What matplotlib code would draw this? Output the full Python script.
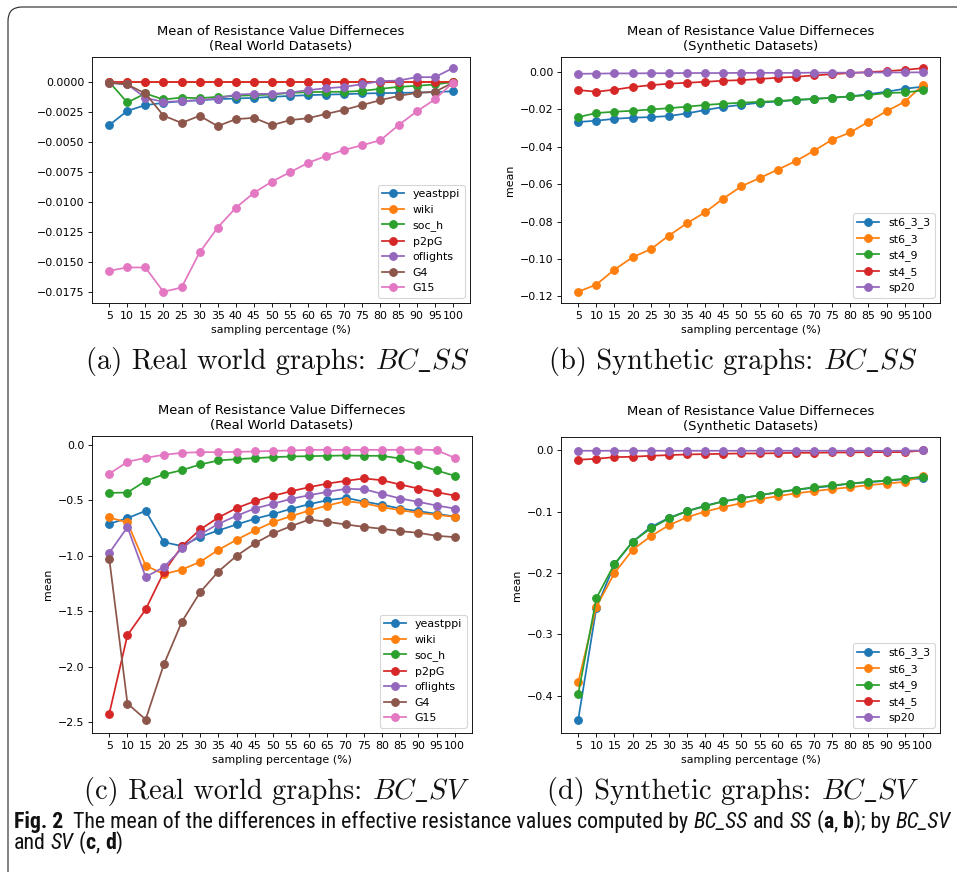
import matplotlib
matplotlib.use("Agg")
import matplotlib.pyplot as plt
from matplotlib import font_manager
from matplotlib.font_manager import FontProperties
from matplotlib.patches import FancyBboxPatch
from matplotlib.transforms import IdentityTransform

# ---------------- data ----------------
pct = [5, 10, 15, 20, 25, 30, 35, 40, 45, 50, 55, 60, 65, 70, 75, 80, 85, 90, 95, 100]

real_names = ["yeastppi", "wiki", "soc_h", "p2pG", "oflights", "G4", "G15"]
syn_names = ["st6_3_3", "st6_3", "st4_9", "st4_5", "sp20"]

# (a) real world, BC_SS
a_yeastppi = [-0.00361, -0.00242, -0.00194, -0.00175, -0.00161, -0.00153, -0.00144, -0.00139, -0.00133, -0.00125,
              -0.00117, -0.00111, -0.00106, -0.00103, -0.00097, -0.00094, -0.00092, -0.00089, -0.00086, -0.00078]
a_wiki = [-0.00002, -0.00002, -0.00002, -0.00002, -0.00002, -0.00002, -0.00002, -0.00002, -0.00002, -0.00002,
          -0.00002, -0.00002, -0.00002, -0.00002, -0.00002, -0.00002, -0.00002, -0.00002, -0.00002, 0.0]
a_soc_h = [0.0, -0.00172, -0.00097, -0.00147, -0.00131, -0.00136, -0.00125, -0.00117, -0.00111, -0.00106,
           -0.00092, -0.00086, -0.00083, -0.00083, -0.00075, -0.00058, -0.00042, -0.00033, -0.00022, -0.00002]
a_p2pG = [0.0] * 20
a_oflights = [-0.0001, -0.0002, -0.00133, -0.00167, -0.00161, -0.00153, -0.00139, -0.00106, -0.00100, -0.00100,
              -0.00089, -0.00069, -0.00053, -0.00042, -0.00019, 0.00006, 0.00011, 0.00039, 0.00039, 0.00114]
a_G4 = [-0.00006, -0.00022, -0.00097, -0.00281, -0.00342, -0.00283, -0.00369, -0.00311, -0.00300, -0.00361,
        -0.00319, -0.00303, -0.00267, -0.00233, -0.00192, -0.00153, -0.00117, -0.00092, -0.00083, -0.00008]
a_G15 = [-0.01575, -0.01547, -0.01547, -0.0175, -0.01714, -0.01422, -0.01214, -0.0105, -0.00925, -0.00831,
         -0.00753, -0.00675, -0.00617, -0.00567, -0.00528, -0.00486, -0.00361, -0.00247, -0.00147, -0.00008]

# (b) synthetic, BC_SS
b_st6_3_3 = [-0.0267, -0.0260, -0.0250, -0.0244, -0.0241, -0.0235, -0.0221, -0.0203, -0.0187, -0.0175,
             -0.0164, -0.0157, -0.0150, -0.0144, -0.0137, -0.0130, -0.0118, -0.0105, -0.0089, -0.0078]
b_st6_3 = [-0.1176, -0.1137, -0.1057, -0.0991, -0.0948, -0.0875, -0.0809, -0.0750, -0.0677, -0.0611,
           -0.0567, -0.0522, -0.0476, -0.0421, -0.0362, -0.0323, -0.0266, -0.0209, -0.0159, -0.0070]
b_st4_9 = [-0.0241, -0.0219, -0.0212, -0.0207, -0.0200, -0.0193, -0.0185, -0.0176, -0.0169, -0.0164,
           -0.0159, -0.0155, -0.0148, -0.0143, -0.0137, -0.0130, -0.0123, -0.0112, -0.0109, -0.0098]
b_st4_5 = [-0.0096, -0.0105, -0.0094, -0.0080, -0.0070, -0.0062, -0.0057, -0.0052, -0.0046, -0.0043,
           -0.0037, -0.0030, -0.0025, -0.0018, -0.0011, -0.0005, 0.0000, 0.0005, 0.0012, 0.0021]
b_sp20 = [-0.0009, -0.0008, -0.0007, -0.0007, -0.0006, -0.0006, -0.0005, -0.0005, -0.0005, -0.0004,
          -0.0004, -0.0004, -0.0004, -0.0003, -0.0003, -0.0003, -0.0002, -0.0002, -0.0002, -0.0001]

# (c) real world, BC_SV
c_yeastppi = [-0.712, -0.661, -0.595, -0.877, -0.913, -0.829, -0.772, -0.718, -0.667, -0.625,
              -0.577, -0.535, -0.499, -0.478, -0.511, -0.541, -0.574, -0.598, -0.622, -0.646]
c_wiki = [-0.655, -0.700, -1.088, -1.166, -1.124, -1.055, -0.947, -0.856, -0.772, -0.697,
          -0.643, -0.592, -0.547, -0.508, -0.526, -0.562, -0.589, -0.613, -0.631, -0.649]
c_soc_h = [-0.433, -0.430, -0.325, -0.267, -0.228, -0.177, -0.141, -0.129, -0.120, -0.111,
           -0.105, -0.102, -0.099, -0.096, -0.099, -0.099, -0.123, -0.180, -0.231, -0.279]
c_p2pG = [-2.422, -1.716, -1.484, -1.148, -0.913, -0.763, -0.655, -0.571, -0.508, -0.460,
          -0.418, -0.382, -0.349, -0.325, -0.303, -0.319, -0.358, -0.394, -0.427, -0.457]
c_oflights = [-0.974, -0.742, -1.190, -1.103, -0.934, -0.808, -0.712, -0.640, -0.574, -0.532,
              -0.487, -0.454, -0.424, -0.397, -0.400, -0.442, -0.484, -0.514, -0.547, -0.574]
c_G4 = [-1.028, -2.332, -2.476, -1.980, -1.593, -1.328, -1.142, -1.001, -0.889, -0.799,
        -0.733, -0.673, -0.694, -0.718, -0.739, -0.757, -0.778, -0.793, -0.820, -0.832]
c_G15 = [-0.261, -0.153, -0.117, -0.090, -0.072, -0.066, -0.066, -0.063, -0.060, -0.054,
         -0.051, -0.045, -0.045, -0.045, -0.045, -0.045, -0.045, -0.042, -0.048, -0.117]

# (d) synthetic, BC_SV
d_st6_3_3 = [-0.439, -0.257, -0.186, -0.149, -0.125, -0.110, -0.099, -0.090, -0.083, -0.078,
             -0.073, -0.0686, -0.064, -0.061, -0.058, -0.054, -0.052, -0.0495, -0.047, -0.0457]
d_st6_3 = [-0.378, -0.255, -0.200, -0.162, -0.140, -0.122, -0.109, -0.0996, -0.0925, -0.086,
           -0.0795, -0.0746, -0.070, -0.0664, -0.063, -0.060, -0.0566, -0.054, -0.0512, -0.0414]
d_st4_9 = [-0.397, -0.241, -0.185, -0.149, -0.127, -0.111, -0.099, -0.091, -0.083, -0.078,
           -0.073, -0.068, -0.064, -0.060, -0.057, -0.054, -0.051, -0.049, -0.046, -0.043]
d_st4_5 = [-0.0152, -0.0136, -0.0109, -0.0103, -0.0087, -0.0076, -0.0065, -0.0060, -0.0054, -0.0049,
           -0.0049, -0.0044, -0.0038, -0.0038, -0.0033, -0.0033, -0.0027, -0.0027, -0.0027, 0.0]
d_sp20 = [-0.0005] * 19 + [0.0]

panel_a = [a_yeastppi, a_wiki, a_soc_h, a_p2pG, a_oflights, a_G4, a_G15]
panel_b = [b_st6_3_3, b_st6_3, b_st4_9, b_st4_5, b_sp20]
panel_c = [c_yeastppi, c_wiki, c_soc_h, c_p2pG, c_oflights, c_G4, c_G15]
panel_d = [d_st6_3_3, d_st6_3, d_st4_9, d_st4_5, d_sp20]

title_real = "Mean of Resistance Value Differneces\n(Real World Datasets)"
title_syn = "Mean of Resistance Value Differneces\n(Synthetic Datasets)"
xlabel = "sampling percentage (%)"
caption_roman = ["(a) Real world graphs:", "(b) Synthetic graphs:",
                 "(c) Real world graphs:", "(d) Synthetic graphs:"]
caption_math = [r"$BC\_SS$", r"$BC\_SS$", r"$BC\_SV$", r"$BC\_SV$"]

# ---------------- figure ----------------
W, H, DPI = 957, 872, 79
fig = plt.figure(figsize=(W / DPI, H / DPI), dpi=DPI)
fig.patch.set_facecolor("white")


def px_axes(left, right, top, bottom):
    return fig.add_axes([left / W, 1 - bottom / H, (right - left) / W, (bottom - top) / H])


specs = [
    (px_axes(92, 470, 57, 303), panel_a, real_names, title_real, False),
    (px_axes(561, 940, 57, 303), panel_b, syn_names, title_syn, True),
    (px_axes(92, 472, 436, 733), panel_c, real_names, title_real, True),
    (px_axes(561, 940, 437, 733), panel_d, syn_names, title_syn, True),
]

for ax, series, names, title, ylab in specs:
    for vals, name in zip(series, names):
        ax.plot(pct, vals, marker="o", markersize=7, linewidth=1.6, label=name)
    ax.set_xticks(pct)
    ax.set_title(title)
    ax.set_xlabel(xlabel)
    if ylab:
        ax.set_ylabel("mean")
    ax.legend(loc="lower right")

renderer = fig.canvas.get_renderer()


def tw(s, **kw):
    t = fig.text(0, 0, s, **kw)
    w = t.get_window_extent(renderer).width
    t.remove()
    return w


# sub-captions: roman part in Computer Modern (cmr10), italic part in mathtext cm
def cap_widths(i, size):
    w1 = tw(caption_roman[i], family="cmr10", fontsize=size)
    gap = 0.33 * size * DPI / 72.0
    w2 = tw(caption_math[i], fontsize=size, math_fontfamily="cm")
    return w1, gap, w2


size0 = 20.0
wa = sum(cap_widths(0, size0))
cap_fs = size0 * 383.0 / wa
cap_pos = [(278, 369), (733, 369), (277, 799), (733, 799)]
for i, (cx, cy) in enumerate(cap_pos):
    w1, gap, w2 = cap_widths(i, cap_fs)
    x0 = cx - (w1 + gap + w2) / 2.0
    fig.text(x0 / W, 1 - cy / H, caption_roman[i], family="cmr10", fontsize=cap_fs,
             ha="left", va="baseline", color="#111111")
    fig.text((x0 + w1 + gap) / W, 1 - cy / H, caption_math[i], fontsize=cap_fs,
             math_fontfamily="cm", ha="left", va="baseline", color="#111111")

# frame
frame = FancyBboxPatch((8, -60), 1100, H - 7 + 60, boxstyle="round,pad=0,rounding_size=14",
                       transform=IdentityTransform(), fill=False, edgecolor="#222222", linewidth=1.0)
fig.patches.append(frame)
frame.set_figure(fig)

# figure caption
names_avail = {f.name for f in font_manager.fontManager.ttflist}
cap_family = "Open Sans"
for cand in ["Liberation Sans Narrow", "Roboto Condensed", "Roboto", "Open Sans"]:
    if cand in names_avail:
        cap_family = cand
        break


def fp(style, size):
    if style == "b":
        return FontProperties(family=cap_family, weight="bold", size=size)
    if style == "i":
        return FontProperties(family=cap_family, style="italic", size=size)
    return FontProperties(family=cap_family, size=size)


line1 = [("Fig. 2", "b"), ("  The mean of the differences in effective resistance values computed by ", "n"),
         ("BC_SS", "i"), (" and ", "n"), ("SS", "i"), (" (", "n"), ("a", "b"), (", ", "n"), ("b", "b"),
         ("); by ", "n"), ("BC_SV", "i")]
line2 = [("and ", "n"), ("SV", "i"), (" (", "n"), ("c", "b"), (", ", "n"), ("d", "b"), (")", "n")]


def segment_layout(segs, size):
    sp = tw("a a", fontproperties=fp("n", size)) - tw("aa", fontproperties=fp("n", size))
    out = []
    x = 0.0
    for s, st in segs:
        core = s.strip(" ")
        lead = len(s) - len(s.lstrip(" "))
        trail = len(s) - len(s.rstrip(" "))
        x += lead * sp
        if core:
            out.append((x, core, st))
            x += tw(core, fontproperties=fp(st, size))
        x += trail * sp
    return out, x


def draw_line(segs, x0, ybase, size):
    items, _ = segment_layout(segs, size)
    for x, core, st in items:
        fig.text((x0 + x) / W, 1 - ybase / H, core, fontproperties=fp(st, size), va="baseline",
                 ha="left", color="#111111")


base_size = 14
_, wtest = segment_layout(line1, base_size)
fig_cap_size = base_size * 938.0 / wtest
draw_line(line1, 14, 828, fig_cap_size)
draw_line(line2, 14, 849, fig_cap_size)

fig.savefig("out.png", dpi=DPI, facecolor="white")
